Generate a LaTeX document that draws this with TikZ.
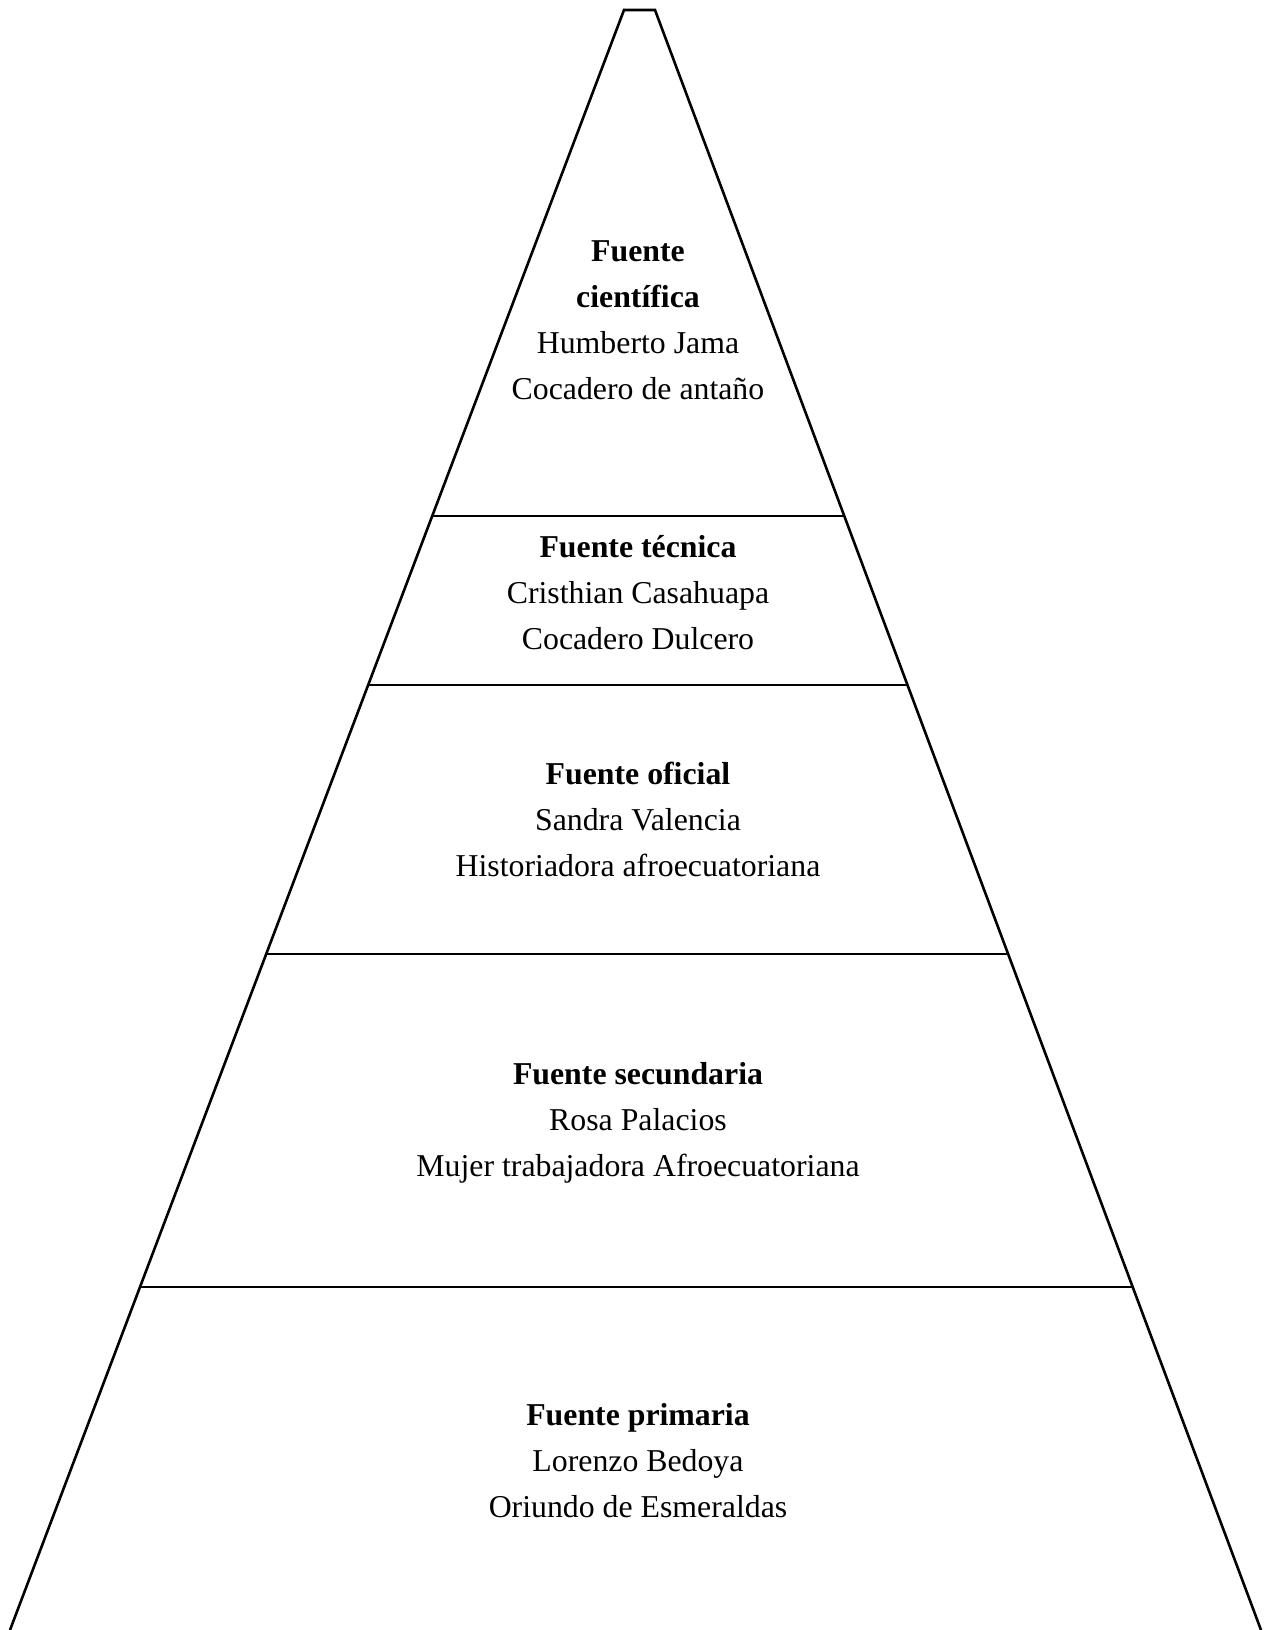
\documentclass[tikz,border=0pt]{standalone}
\usepackage{fontspec}
\setmainfont{Liberation Serif}
\tikzset{
  nivel/.style={align=center,inner sep=0pt,font=\fontsize{15.9}{23}\selectfont},
  borde/.style={line width=1.3pt,line join=miter}
}
\begin{document}
\begin{tikzpicture}[x=0.5pt,y=-0.5pt]
                    \useasboundingbox (0,0) rectangle (1266,1630);
                    % contorno de la piramide
                    \draw[borde] (10,1630) -- (624,10) -- (655,10) -- (1261,1630);
                    % divisiones entre niveles
                    \draw[borde] (432,516) -- (844,516);
                    \draw[borde] (368,685) -- (908,685);
                    \draw[borde] (266,954) -- (1008,954);
                    \draw[borde] (140,1287) -- (1133,1287);
                    % textos
                    \node[nivel] (cientifica) at (638,320)
                        {\textbf{Fuente}\\\textbf{científica}\\Humberto Jama\\Cocadero de antaño};
                    \node[nivel] (tecnica) at (638,593)
                        {\textbf{Fuente técnica}\\Cristhian Casahuapa\\Cocadero Dulcero};
                    \node[nivel] (oficial) at (638,819)
                        {\textbf{Fuente oficial}\\Sandra Valencia\\Historiadora afroecuatoriana};
                    \node[nivel] (secundaria) at (638,1123)
                        {\textbf{Fuente secundaria}\\Rosa Palacios\\Mujer trabajadora Afroecuatoriana};
                    \node[nivel] (primaria) at (638,1461)
                        {\textbf{Fuente primaria}\\Lorenzo Bedoya\\Oriundo de Esmeraldas};
                \end{tikzpicture}
\end{document}
